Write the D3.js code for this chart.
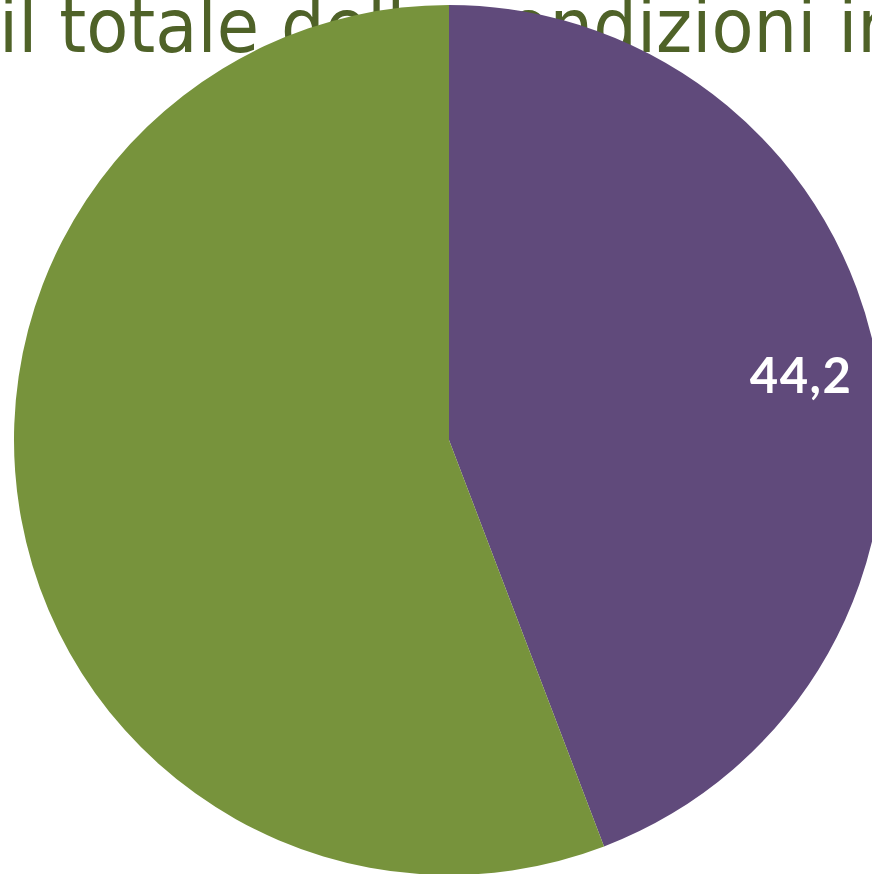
<!DOCTYPE html>
<html>
<head>
<meta charset="utf-8">
<script src="https://cdn.jsdelivr.net/npm/d3@7"></script>
<style>
  html, body { margin: 0; padding: 0; background: #ffffff; overflow: hidden; }
  svg { display: block; }
</style>
</head>
<body>
<svg id="chart" width="872" height="874"></svg>
<script>
// Slice shares (percent), clockwise from 12 o'clock
const sliceNames = ["quota", "resto"];
const sliceValues = [44.2, 55.8];
const sliceLabels = ["44,2", ""];
const sliceColors = ["#604a7b", "#77933c"];
const titleText = "il totale delle condizioni in";

const width = 872, height = 874;
const cx = 449, cy = 440, radius = 435;

const svg = d3.select("#chart");

// Title sits behind the pie, partly covered by it
svg.append("text")
  .attr("x", -1)
  .attr("y", 52)
  .attr("textLength", 902)
  .attr("lengthAdjust", "spacingAndGlyphs")
  .attr("font-family", "'DejaVu Sans', sans-serif")
  .attr("font-size", 75)
  .attr("fill", "#4f6228")
  .text(titleText);

const pie = d3.pie().sort(null).value(d => d);
const arcs = pie(sliceValues);

const arc = d3.arc().innerRadius(0).outerRadius(radius);
const labelArc = d3.arc().innerRadius(358).outerRadius(358);

const g = svg.append("g").attr("transform", `translate(${cx},${cy})`);

g.selectAll("path.slice")
  .data(arcs)
  .join("path")
  .attr("class", "slice")
  .attr("d", arc)
  .attr("fill", (d, i) => sliceColors[i]);

g.selectAll("text.label")
  .data(arcs)
  .join("text")
  .attr("class", "label")
  .attr("transform", d => `translate(${labelArc.centroid(d)})`)
  .attr("text-anchor", "middle")
  .attr("dy", "0.36em")
  .attr("font-family", "Lato, 'Open Sans', sans-serif")
  .attr("font-weight", 700)
  .attr("font-size", 49)
  .attr("letter-spacing", 1.5)
  .attr("fill", "#ffffff")
  .text((d, i) => sliceLabels[i]);
</script>
</body>
</html>
